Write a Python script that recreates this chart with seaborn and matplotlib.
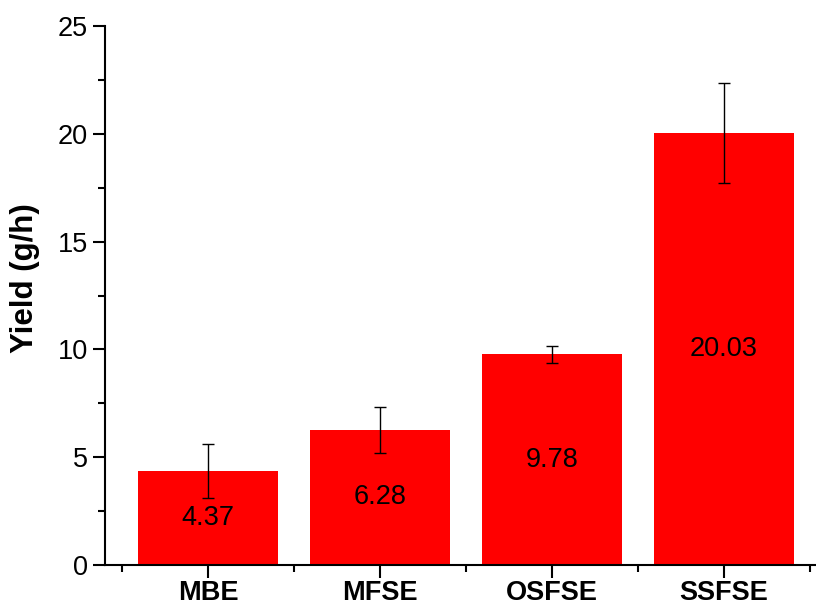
import matplotlib
matplotlib.use("Agg")
import matplotlib.pyplot as plt
import seaborn as sns
import pandas as pd
from matplotlib.ticker import MultipleLocator, FixedLocator

# Extraction methods and their yields
methods = ["MBE", "MFSE", "OSFSE", "SSFSE"]
yields = [4.37, 6.28, 9.78, 20.03]
yield_err = [1.24, 1.07, 0.40, 2.31]

sns.set_theme(style="white")
plt.rcParams["font.family"] = ["Liberation Sans", "DejaVu Sans"]
plt.rcParams.update({
    "text.color": "black",
    "axes.labelcolor": "black",
    "xtick.color": "black",
    "ytick.color": "black",
})

df = pd.DataFrame({"method": methods, "yield": yields})

fig = plt.figure(figsize=(8.16, 6.06), dpi=100)
ax = fig.add_axes([105 / 816, 41 / 606, 711 / 816, 539 / 606])

sns.barplot(data=df, x="method", y="yield", color="#ff0000", saturation=1,
            width=0.81, errorbar=None, ax=ax, edgecolor="none")

ax.errorbar(range(len(methods)), yields, yerr=yield_err, fmt="none",
            ecolor="black", elinewidth=1.0, capsize=4, capthick=1.0, zorder=5)

for i, v in enumerate(yields):
    ax.text(i, v / 2, f"{v:.2f}", ha="center", va="center",
            fontsize=19.5, color="black", zorder=6)

ax.set_xlim(-0.599, 3.535)
ax.set_ylim(0, 25)
ax.yaxis.set_major_locator(MultipleLocator(5))
ax.yaxis.set_minor_locator(MultipleLocator(2.5))
ax.xaxis.set_minor_locator(FixedLocator([-0.5, 0.5, 1.5, 2.5, 3.5]))

for side in ["top", "right"]:
    ax.spines[side].set_visible(False)
for side in ["left", "bottom"]:
    ax.spines[side].set_linewidth(1.5)
    ax.spines[side].set_color("black")

ax.tick_params(axis="both", which="major", direction="out", length=9,
               width=1.5, color="black", labelcolor="black", labelsize=19.5,
               left=True, bottom=True)
ax.tick_params(axis="both", which="minor", direction="out", length=5,
               width=1.5, color="black", left=True, bottom=True)
ax.tick_params(axis="x", which="major", pad=2)
for lbl in ax.get_xticklabels():
    lbl.set_fontweight("bold")

ax.set_xlabel("")
ax.set_ylabel("")
fig.text(25 / 816, 1 - 278 / 606, "Yield (g/h)", rotation=90,
         ha="center", va="center", fontsize=22.5, fontweight="bold",
         color="black")

fig.savefig("out.png", dpi=100)
